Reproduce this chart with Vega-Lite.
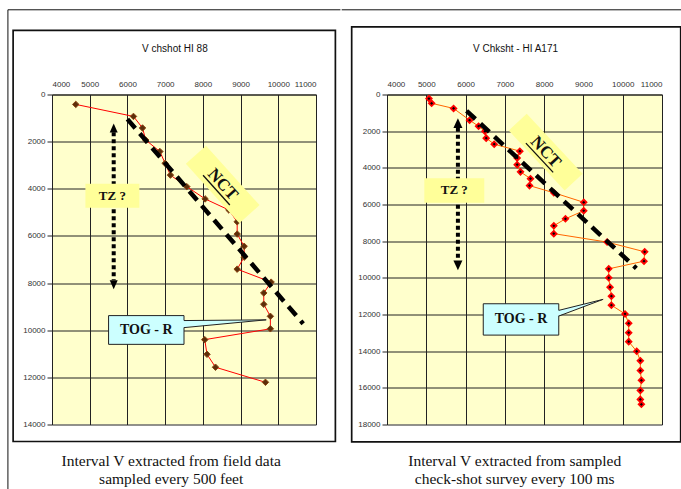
{
 "$schema": "https://vega.github.io/schema/vega-lite/v6.json",
 "background": "white",
 "padding": {"left": 7, "top": 8.5, "right": 0, "bottom": 0},
 "spacing": 0,
 "config": {
  "view": {"fill": "#FFFFCC", "stroke": null},
  "axis": {"labelFont": "Liberation Sans", "labelFontSize": 8, "labelColor": "#333", "gridColor": "#222", "gridOpacity": 1, "gridWidth": 1, "domainColor": "#222", "tickColor": "#222", "tickCount": 20, "labelOverlap": false},
  "text": {"font": "Liberation Serif", "color": "#111"}
 },
 "datasets": {
  "hi88": [{"v":4630,"d":420},{"v":6160,"d":930},{"v":6400,"d":1420},{"v":6485,"d":1930},{"v":6860,"d":2420},{"v":7000,"d":2920},{"v":7140,"d":3420},{"v":7575,"d":3910},{"v":8060,"d":4430},{"v":8690,"d":4900},{"v":8910,"d":5400},{"v":8910,"d":5920},{"v":9095,"d":6440},{"v":9095,"d":6900},{"v":8910,"d":7410},{"v":9810,"d":7960},{"v":9615,"d":8420},{"v":9615,"d":8900},{"v":9790,"d":9410},{"v":9790,"d":9940},{"v":8050,"d":10400},{"v":8110,"d":11020},{"v":8335,"d":11570},{"v":9660,"d":12210}],
  "a171": [{"v":5068,"d":220},{"v":5136,"d":480},{"v":5695,"d":760},{"v":6102,"d":1400},{"v":6331,"d":1730},{"v":6492,"d":2010},{"v":6525,"d":2380},{"v":6729,"d":2710},{"v":7381,"d":3090},{"v":7314,"d":3460},{"v":7314,"d":3830},{"v":7398,"d":4220},{"v":7653,"d":4590},{"v":7627,"d":4970},{"v":8246,"d":5360},{"v":9008,"d":5880},{"v":9008,"d":6340},{"v":8542,"d":6780},{"v":8246,"d":7160},{"v":8246,"d":7590},{"v":9602,"d":8050},{"v":10559,"d":8580},{"v":10542,"d":9090},{"v":9644,"d":9510},{"v":9644,"d":10000},{"v":9678,"d":10510},{"v":9712,"d":11000},{"v":9712,"d":11490},{"v":10059,"d":11970},{"v":10153,"d":12480},{"v":10153,"d":12990},{"v":10153,"d":13480},{"v":10356,"d":14010},{"v":10449,"d":14520},{"v":10449,"d":15060},{"v":10475,"d":15590},{"v":10449,"d":16140},{"v":10449,"d":16630},{"v":10475,"d":16900}]
 },
 "hconcat": [
  {
   "width": 264, "height": 330,
   "data": {"values": [{}]},
   "layer": [
    {"data": {"name": "hi88"}, "mark": {"type": "line", "color": "#FF0000", "strokeWidth": 1},
     "encoding": {
      "x": {"field": "v", "type": "quantitative", "title": null, "scale": {"domain": [4000, 11000], "nice": false, "zero": false},
            "axis": {"orient": "top", "values": [4000,5000,6000,7000,8000,9000,10000,11000], "format": "d", "ticks": false, "labelPadding": 6, "title": null, "grid": true}},
      "y": {"field": "d", "type": "quantitative", "title": null, "scale": {"domain": [0, 14000], "reverse": true, "nice": false, "zero": false},
            "axis": {"orient": "left", "values": [0,2000,4000,6000,8000,10000,12000,14000], "format": "d", "tickSize": 5, "labelPadding": 2, "title": null, "grid": true}},
      "order": {"field": "d", "type": "quantitative"}}},
    {"data": {"name": "hi88"}, "mark": {"type": "point", "shape": "diamond", "filled": true, "fill": "#5C2E0A", "stroke": "#8B4513", "strokeWidth": 1, "size": 42, "opacity": 1},
     "encoding": {"x": {"field": "v", "type": "quantitative", "title": null}, "y": {"field": "d", "type": "quantitative", "title": null}}},
    {"mark": {"type": "rule", "color": "#111", "strokeWidth": 1}, "encoding": {"x": {"datum": 2831}, "y": {"datum": -3594}, "y2": {"datum": 16830}}},
    {"mark": {"type": "rule", "color": "#111", "strokeWidth": 1}, "encoding": {"x": {"datum": 2831}, "x2": {"datum": 11647}, "y": {"datum": -3594}}},
    {"mark": {"type": "rect", "fill": "transparent", "stroke": "#111", "strokeWidth": 1.7}, "encoding": {"x": {"datum": 2969}, "x2": {"datum": 11514}, "y": {"datum": -2724}, "y2": {"datum": 14722}}},
    {"mark": {"type": "text", "text": "V chshot HI 88", "font": "Liberation Sans", "fontSize": 10, "align": "center", "baseline": "middle"}, "encoding": {"x": {"datum": 7259}, "y": {"datum": -1939}}},
    {"mark": {"type": "text", "text": "Interval V extracted from field data", "fontSize": 15.5, "align": "center", "baseline": "middle"}, "encoding": {"x": {"datum": 7161}, "y": {"datum": 15541}}},
    {"mark": {"type": "text", "text": "sampled every 500 feet", "fontSize": 15.5, "align": "center", "baseline": "middle"}, "encoding": {"x": {"datum": 7161}, "y": {"datum": 16305}}},
    {"mark": {"type": "rule", "color": "#000", "strokeWidth": 4, "strokeDash": [4, 3]}, "encoding": {"x": {"datum": 5636}, "y": {"datum": 1600}, "y2": {"datum": 7880}}},
    {"mark": {"type": "point", "shape": "M0,0L1,2.25L-1,2.25Z", "filled": true, "color": "#000", "size": 64, "opacity": 1}, "encoding": {"x": {"datum": 5636}, "y": {"datum": 1230}}},
    {"mark": {"type": "point", "shape": "M0,0L1,-2.25L-1,-2.25Z", "filled": true, "color": "#000", "size": 64, "opacity": 1}, "encoding": {"x": {"datum": 5636}, "y": {"datum": 8257}}},
    {"mark": {"type": "rect", "fill": "#FFFF99"}, "encoding": {"x": {"datum": 4886}, "x2": {"datum": 6317}, "y": {"datum": 3789}, "y2": {"datum": 4807}}},
    {"mark": {"type": "text", "text": "TZ ?", "fontSize": 13, "fontWeight": "bold", "align": "center", "baseline": "middle"}, "encoding": {"x": {"datum": 5600}, "y": {"datum": 4300}}},
    {"mark": {"type": "rule", "color": "#000", "strokeWidth": 4.5, "strokeDash": [12, 7]}, "encoding": {"x": {"datum": 6000}, "y": {"datum": 1045}, "x2": {"datum": 10660}, "y2": {"datum": 9723}}},
    {"mark": {"type": "point", "shape": "M-1,-0.34L1,-0.34L1,0.34L-1,0.34Z", "filled": true, "fill": "#FFFF99", "size": 6400, "angle": 48, "opacity": 1}, "encoding": {"x": {"datum": 8526}, "y": {"datum": 3818}}},
    {"mark": {"type": "text", "text": "NCT", "fontSize": 17, "fontWeight": "bold", "angle": 48, "align": "center", "baseline": "middle"}, "encoding": {"x": {"datum": 8526}, "y": {"datum": 3818}}},
    {"mark": {"type": "point", "shape": "M-1,0.42L1,0.42", "filled": false, "stroke": "#111", "strokeWidth": 1.3, "size": 1600, "angle": 48, "opacity": 1}, "encoding": {"x": {"datum": 8526}, "y": {"datum": 3818}}},
    {"mark": {"type": "rect", "fill": "#CCFFFF", "stroke": "#222", "strokeWidth": 1}, "encoding": {"x": {"datum": 5500}, "x2": {"datum": 7500}, "y": {"datum": 9380}, "y2": {"datum": 10600}}},
    {"data": {"values": [{"v": 7470, "d": 9590, "d2": 9890}, {"v": 9680, "d": 9560, "d2": 9560}]}, "mark": {"type": "area", "color": "#CCFFFF", "opacity": 1},
     "encoding": {"x": {"field": "v", "type": "quantitative", "title": null}, "y": {"field": "d", "type": "quantitative", "title": null}, "y2": {"field": "d2"}}},
    {"mark": {"type": "rule", "color": "#222", "strokeWidth": 1}, "encoding": {"x": {"datum": 7500}, "y": {"datum": 9590}, "x2": {"datum": 9680}, "y2": {"datum": 9560}}},
    {"mark": {"type": "rule", "color": "#222", "strokeWidth": 1}, "encoding": {"x": {"datum": 7500}, "y": {"datum": 9890}, "x2": {"datum": 9680}, "y2": {"datum": 9560}}},
    {"mark": {"type": "text", "text": "TOG - R", "fontSize": 14, "fontWeight": "bold", "align": "center", "baseline": "middle"}, "encoding": {"x": {"datum": 6500}, "y": {"datum": 9990}}}
   ]
  },
  {
   "width": 275, "height": 330,
   "data": {"values": [{}]},
   "layer": [
    {"data": {"name": "a171"}, "mark": {"type": "line", "color": "#FF6600", "strokeWidth": 1},
     "encoding": {
      "x": {"field": "v", "type": "quantitative", "title": null, "scale": {"domain": [4000, 11000], "nice": false, "zero": false},
            "axis": {"orient": "top", "values": [4000,5000,6000,7000,8000,9000,10000,11000], "format": "d", "ticks": false, "labelPadding": 6, "title": null, "grid": true}},
      "y": {"field": "d", "type": "quantitative", "title": null, "scale": {"domain": [0, 18000], "reverse": true, "nice": false, "zero": false},
            "axis": {"orient": "left", "values": [0,2000,4000,6000,8000,10000,12000,14000,16000,18000], "format": "d", "tickSize": 5, "labelPadding": 2, "title": null, "grid": true}},
      "order": {"field": "d", "type": "quantitative"}}},
    {"data": {"name": "a171"}, "mark": {"type": "point", "shape": "diamond", "filled": true, "fill": "#000000", "stroke": "#FF0000", "strokeWidth": 1.8, "size": 30, "opacity": 1},
     "encoding": {"x": {"field": "v", "type": "quantitative", "title": null}, "y": {"field": "d", "type": "quantitative", "title": null}}},
    {"mark": {"type": "rule", "color": "#111", "strokeWidth": 1}, "encoding": {"x": {"datum": 2847}, "x2": {"datum": 11527}, "y": {"datum": -4620}}},
    {"mark": {"type": "rect", "fill": "transparent", "stroke": "#111", "strokeWidth": 1.7}, "encoding": {"x": {"datum": 3101}, "x2": {"datum": 11476}, "y": {"datum": -3693}, "y2": {"datum": 18948}}},
    {"mark": {"type": "text", "text": "V  Chksht - HI A171", "font": "Liberation Sans", "fontSize": 10, "align": "center", "baseline": "middle"}, "encoding": {"x": {"datum": 7271}, "y": {"datum": -2493}}},
    {"mark": {"type": "text", "text": "Interval V extracted from sampled", "fontSize": 15.5, "align": "center", "baseline": "middle"}, "encoding": {"x": {"datum": 7251}, "y": {"datum": 19980}}},
    {"mark": {"type": "text", "text": "check-shot survey every 100 ms", "fontSize": 15.5, "align": "center", "baseline": "middle"}, "encoding": {"x": {"datum": 7251}, "y": {"datum": 20962}}},
    {"mark": {"type": "rule", "color": "#000", "strokeWidth": 4, "strokeDash": [4, 3]}, "encoding": {"x": {"datum": 5805}, "y": {"datum": 1820}, "y2": {"datum": 9060}}},
    {"mark": {"type": "point", "shape": "M0,0L1,2.2L-1,2.2Z", "filled": true, "color": "#000", "size": 81, "opacity": 1}, "encoding": {"x": {"datum": 5805}, "y": {"datum": 1289}}},
    {"mark": {"type": "point", "shape": "M0,0L1,-2.2L-1,-2.2Z", "filled": true, "color": "#000", "size": 81, "opacity": 1}, "encoding": {"x": {"datum": 5805}, "y": {"datum": 9590}}},
    {"mark": {"type": "rect", "fill": "#FFFF99"}, "encoding": {"x": {"datum": 4950}, "x2": {"datum": 6476}, "y": {"datum": 4566}, "y2": {"datum": 5898}}},
    {"mark": {"type": "text", "text": "TZ ?", "fontSize": 13, "fontWeight": "bold", "align": "center", "baseline": "middle"}, "encoding": {"x": {"datum": 5713}, "y": {"datum": 5232}}},
    {"mark": {"type": "rule", "color": "#000", "strokeWidth": 4.5, "strokeDash": [12, 7]}, "encoding": {"x": {"datum": 6026}, "y": {"datum": 890}, "x2": {"datum": 10347}, "y2": {"datum": 9481}}},
    {"mark": {"type": "point", "shape": "M-1,-0.3L1,-0.3L1,0.3L-1,0.3Z", "filled": true, "fill": "#FFFF99", "size": 6724, "angle": 47, "opacity": 1}, "encoding": {"x": {"datum": 8039}, "y": {"datum": 3140}}},
    {"mark": {"type": "text", "text": "NCT", "fontSize": 17, "fontWeight": "bold", "angle": 47, "align": "center", "baseline": "middle"}, "encoding": {"x": {"datum": 8039}, "y": {"datum": 3140}}},
    {"mark": {"type": "point", "shape": "M-1,0.42L1,0.42", "filled": false, "stroke": "#111", "strokeWidth": 1.3, "size": 1600, "angle": 47, "opacity": 1}, "encoding": {"x": {"datum": 8039}, "y": {"datum": 3140}}},
    {"mark": {"type": "rect", "fill": "#CCFFFF", "stroke": "#222", "strokeWidth": 1}, "encoding": {"x": {"datum": 6450}, "x2": {"datum": 8372}, "y": {"datum": 11414}, "y2": {"datum": 13124}}},
    {"data": {"values": [{"v": 8345, "d": 11775, "d2": 12086}, {"v": 9501, "d": 11174, "d2": 11174}]}, "mark": {"type": "area", "color": "#CCFFFF", "opacity": 1},
     "encoding": {"x": {"field": "v", "type": "quantitative", "title": null}, "y": {"field": "d", "type": "quantitative", "title": null}, "y2": {"field": "d2"}}},
    {"mark": {"type": "rule", "color": "#222", "strokeWidth": 1}, "encoding": {"x": {"datum": 8372}, "y": {"datum": 11775}, "x2": {"datum": 9501}, "y2": {"datum": 11174}}},
    {"mark": {"type": "rule", "color": "#222", "strokeWidth": 1}, "encoding": {"x": {"datum": 8372}, "y": {"datum": 12086}, "x2": {"datum": 9501}, "y2": {"datum": 11174}}},
    {"mark": {"type": "text", "text": "TOG - R", "fontSize": 14, "fontWeight": "bold", "align": "center", "baseline": "middle"}, "encoding": {"x": {"datum": 7411}, "y": {"datum": 12270}}}
   ]
  }
 ]
}
